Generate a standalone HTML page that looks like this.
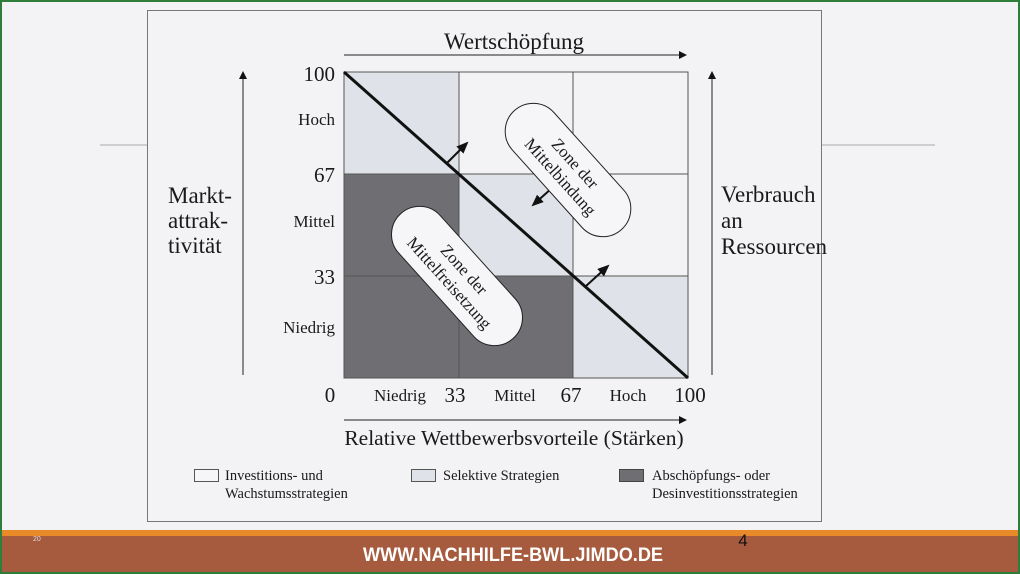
<!DOCTYPE html>
<html><head><meta charset="utf-8"><style>
html,body{margin:0;padding:0;width:1020px;height:574px;overflow:hidden;background:#f3f2f5}
svg{display:block}
text{font-family:"Liberation Serif",serif;fill:#1a1a1a}
</style></head><body>
<svg width="1020" height="574" viewBox="0 0 1020 574" xmlns="http://www.w3.org/2000/svg">
<defs><marker id="ah" markerWidth="8" markerHeight="8" refX="7" refY="4" orient="auto" markerUnits="userSpaceOnUse"><path d="M0,0 L8,4 L0,8 Z" fill="#111"/></marker>
<marker id="ah2" markerWidth="12" markerHeight="10" refX="10" refY="5" orient="auto" markerUnits="userSpaceOnUse"><path d="M0,0 L12,5 L0,10 Z" fill="#111"/></marker></defs>
<rect x="0" y="0" width="1020" height="574" fill="#f3f2f5"/>
<line x1="100" y1="145" x2="147" y2="145" stroke="#aaa"/>
<line x1="822" y1="145" x2="935" y2="145" stroke="#aaa"/>
<rect x="147.5" y="10.5" width="674" height="511" fill="#f3f2f5" stroke="#777"/>
<rect x="344" y="72" width="344" height="306" fill="#f3f2f5"/>
<rect x="344" y="72" width="115" height="102" fill="#dfe2e8"/>
<rect x="459" y="174" width="114" height="102" fill="#dfe2e8"/>
<rect x="573" y="276" width="115" height="102" fill="#dfe2e8"/>
<rect x="344" y="174" width="115" height="204" fill="#6f6f73"/>
<rect x="459" y="276" width="114" height="102" fill="#6f6f73"/>
<g stroke="#555" stroke-width="1" fill="none">
<rect x="344" y="72" width="344" height="306"/>
<line x1="459" y1="72" x2="459" y2="378"/><line x1="573" y1="72" x2="573" y2="378"/>
<line x1="344" y1="174" x2="688" y2="174"/><line x1="344" y1="276" x2="688" y2="276"/>
</g>
<line x1="344" y1="72" x2="688" y2="378" stroke="#111" stroke-width="3"/>
<line x1="447" y1="163" x2="467" y2="143" stroke="#111" stroke-width="2" marker-end="url(#ah2)"/>
<line x1="552" y1="188" x2="533" y2="205" stroke="#111" stroke-width="2" marker-end="url(#ah2)"/>
<line x1="586" y1="286" x2="608" y2="266" stroke="#111" stroke-width="2" marker-end="url(#ah2)"/>
<g transform="translate(568,170) rotate(48)">
<rect x="-80" y="-28" width="160" height="56" rx="28" fill="#f6f6f8" stroke="#222"/>
<text x="0" y="-4" text-anchor="middle" font-size="17">Zone der</text>
<text x="0" y="16" text-anchor="middle" font-size="17">Mittelbindung</text>
</g>
<g transform="translate(457,276) rotate(48)">
<rect x="-84" y="-28" width="168" height="56" rx="28" fill="#f6f6f8" stroke="#222"/>
<text x="0" y="-4" text-anchor="middle" font-size="17">Zone der</text>
<text x="0" y="16" text-anchor="middle" font-size="17">Mittelfreisetzung</text>
</g>
<text x="514" y="49" text-anchor="middle" font-size="23">Wertschöpfung</text>
<line x1="344" y1="55" x2="686" y2="55" stroke="#222" stroke-width="1" marker-end="url(#ah)"/>
<line x1="243" y1="375" x2="243" y2="72" stroke="#222" marker-end="url(#ah)"/>
<text x="168" y="203" font-size="23">Markt-</text>
<text x="168" y="228" font-size="23">attrak-</text>
<text x="168" y="253" font-size="23">tivität</text>
<text x="335" y="81" text-anchor="end" font-size="21">100</text>
<text x="335" y="125" text-anchor="end" font-size="17">Hoch</text>
<text x="335" y="182" text-anchor="end" font-size="21">67</text>
<text x="335" y="227" text-anchor="end" font-size="17">Mittel</text>
<text x="335" y="284" text-anchor="end" font-size="21">33</text>
<text x="335" y="333" text-anchor="end" font-size="17">Niedrig</text>
<line x1="712" y1="375" x2="712" y2="72" stroke="#222" marker-end="url(#ah)"/>
<text x="721" y="202" font-size="23">Verbrauch</text>
<text x="721" y="228" font-size="23">an</text>
<text x="721" y="254" font-size="23">Ressourcen</text>
<text x="330" y="402" text-anchor="middle" font-size="21">0</text>
<text x="400" y="401" text-anchor="middle" font-size="17">Niedrig</text>
<text x="455" y="402" text-anchor="middle" font-size="21">33</text>
<text x="515" y="401" text-anchor="middle" font-size="17">Mittel</text>
<text x="571" y="402" text-anchor="middle" font-size="21">67</text>
<text x="628" y="401" text-anchor="middle" font-size="17">Hoch</text>
<text x="690" y="402" text-anchor="middle" font-size="21">100</text>
<line x1="344" y1="420" x2="686" y2="420" stroke="#222" marker-end="url(#ah)"/>
<text x="514" y="445" text-anchor="middle" font-size="21.5">Relative Wettbewerbsvorteile (Stärken)</text>
<rect x="194.5" y="469.5" width="24" height="12" fill="#f6f6f8" stroke="#555"/>
<text x="225" y="480" font-size="14.5">Investitions- und</text>
<text x="225" y="498" font-size="14.5">Wachstumsstrategien</text>
<rect x="411.5" y="469.5" width="24" height="12" fill="#dfe2e8" stroke="#555"/>
<text x="443" y="480" font-size="14.5">Selektive Strategien</text>
<rect x="619.5" y="469.5" width="24" height="12" fill="#6f6f73" stroke="#444"/>
<text x="652" y="480" font-size="14.5">Abschöpfungs- oder</text>
<text x="652" y="498" font-size="14.5">Desinvestitionsstrategien</text>
<rect x="0" y="530" width="1020" height="6" fill="#e8892a"/>
<rect x="0" y="536" width="1020" height="36" fill="#a65b3e"/>
<text x="33" y="541" font-size="7" style="font-family:'Liberation Sans',sans-serif;fill:#ddd">20</text>
<text x="743" y="546" text-anchor="middle" font-size="17" style="font-family:'Liberation Sans',sans-serif;fill:#111">4</text>
<text x="513" y="561" text-anchor="middle" font-size="19" font-weight="bold" textLength="300" lengthAdjust="spacingAndGlyphs" style="font-family:'Liberation Sans',sans-serif;fill:#fff">WWW.NACHHILFE-BWL.JIMDO.DE</text>
<rect x="1" y="1" width="1018" height="572" fill="none" stroke="#2e7d3a" stroke-width="2"/>
</svg>
</body></html>
